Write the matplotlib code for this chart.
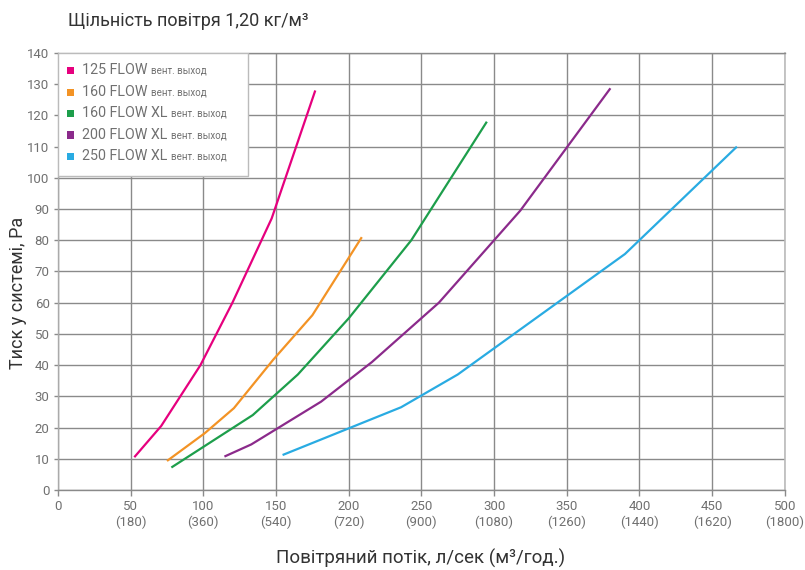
import matplotlib.pyplot as plt
from matplotlib.patches import Rectangle

plt.rcParams['font.family'] = ['Roboto', 'DejaVu Sans']

# Data: flow (l/s) vs pressure (Pa)
flow_125 = [52.5, 71, 98, 120, 147, 177]
pa_125 = [10.5, 20.5, 40, 60, 87, 128]

flow_160 = [75, 101, 121, 148, 175, 209]
pa_160 = [9.3, 18.2, 26.2, 41.7, 56, 81]

flow_160xl = [78, 134, 165, 200, 243, 295]
pa_160xl = [7.2, 24, 37, 55, 80, 118]

flow_200xl = [114.5, 133, 181, 216, 262, 318, 380]
pa_200xl = [10.7, 14.6, 28.3, 41, 60, 89.5, 128.7]

flow_250xl = [154.5, 236, 275, 390, 467]
pa_250xl = [11.2, 26.5, 37, 75.6, 110]

series_names = ['125 FLOW', '160 FLOW', '160 FLOW XL', '200 FLOW XL', '250 FLOW XL']
series_suffix = 'вент. выход'
colors = ['#E6007E', '#F39325', '#1D9E4B', '#8B2A8B', '#29ABE2']

x_ticks = [0, 50, 100, 150, 200, 250, 300, 350, 400, 450, 500]
x_tick_labels = ['0', '50\n(180)', '100\n(360)', '150\n(540)', '200\n(720)', '250\n(900)',
                 '300\n(1080)', '350\n(1260)', '400\n(1440)', '450\n(1620)', '500\n(1800)']
y_ticks = list(range(0, 141, 10))

grid_col = '#8a8a8a'
text_col = '#707070'

fig = plt.figure(figsize=(8.05, 5.70), dpi=100)
ax = fig.add_axes([0.072, 0.1404, 0.903, 0.7666])

all_flows = [flow_125, flow_160, flow_160xl, flow_200xl, flow_250xl]
all_pa = [pa_125, pa_160, pa_160xl, pa_200xl, pa_250xl]
for fx, py, c in zip(all_flows, all_pa, colors):
    ax.plot(fx, py, color=c, lw=1.6, zorder=3, solid_capstyle='butt')

ax.set_xlim(0, 500)
ax.set_ylim(0, 140)
ax.set_xticks(x_ticks)
ax.set_xticklabels(x_tick_labels, color=text_col, fontsize=9.5, linespacing=1.25)
ax.set_yticks(y_ticks)
ax.set_yticklabels([str(v) for v in y_ticks], color=text_col, fontsize=9.5)
ax.tick_params(axis='x', length=4, width=1, color=grid_col, pad=3)
ax.tick_params(axis='y', length=3, width=1, color=grid_col, pad=3)

ax.grid(True, color=grid_col, lw=1, zorder=0)
ax.set_axisbelow(True)
for side in ['left', 'bottom', 'top']:
    ax.spines[side].set_color(grid_col)
    ax.spines[side].set_linewidth(1)
ax.spines['right'].set_color('#bbbbbb')
ax.spines['right'].set_linewidth(1.2)
ax.spines['left'].set_color('#aaaaaa')

# legend box drawn by hand (mixed font sizes)
ax.add_patch(Rectangle((0, 100.5), 131, 39.5, facecolor='white', edgecolor='#bbbbbb',
                       lw=1, zorder=4))
row_y = [134.4, 127.4, 120.7, 113.7, 106.9]
for name, c, yy in zip(series_names, colors, row_y):
    ax.add_patch(Rectangle((6.5, yy - 1.2), 4.8, 2.4, facecolor=c, edgecolor='none', zorder=5))
    t = ax.text(16.5, yy, name + ' ', color=text_col, fontsize=10.3, va='center', ha='left', zorder=5)
    ax.annotate(series_suffix, xycoords=t, xy=(1, 0.12), va='bottom', ha='left',
                color=text_col, fontsize=7, zorder=5)

fig.text(0.084, 0.964, 'Щільність повітря 1,20 кг/м³', fontsize=13, color='#333333',
         ha='left', va='center')
ax.set_ylabel('Тиск у системі, Ра', fontsize=13, color='#333333')
ax.yaxis.set_label_coords(-0.043, 0.45)
fig.text(0.523, 0.02, 'Повітряний потік, л/сек (м³/год.)', fontsize=13.5, color='#333333',
         ha='center', va='center')

fig.savefig('out.png', dpi=100)
